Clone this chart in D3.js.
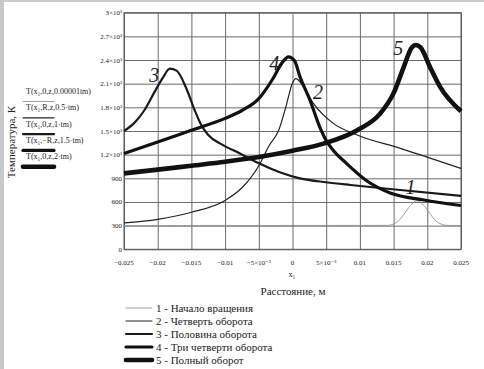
<!DOCTYPE html>
<head>
<meta charset="utf-8">
<script src="https://d3js.org/d3.v7.min.js"></script>
<style>
  body { margin: 0; background: #fff; }
  .grid line { stroke: #6a6a6a; stroke-width: 1; }
  .grid path { display: none; }
</style>
</head>
<body>
<div id="chart"></div>
<script>
// данные
var xTicks = [-0.025, -0.02, -0.015, -0.01, -0.005, 0, 0.005, 0.01, 0.015, 0.02, 0.025];
var xTickLabels = ["\u22120.025", "\u22120.02", "\u22120.015", "\u22120.01", "\u22125\u00d710\u207b\u00b3", "0", "5\u00d710\u207b\u00b3", "0.01", "0.015", "0.02", "0.025"];
var yTicks = [0, 300, 600, 900, 1200, 1500, 1800, 2100, 2400, 2700, 3000];
var yTickLabels = ["0", "300", "600", "900", "1.2\u00d710\u00b3", "1.5\u00d710\u00b3", "1.8\u00d710\u00b3", "2.1\u00d710\u00b3", "2.4\u00d710\u00b3", "2.7\u00d710\u00b3", "3\u00d710\u00b3"];

// 1 - начало вращения
var x1 = [-0.025, 0.014, 0.0155, 0.0165, 0.0175, 0.0185, 0.0195, 0.0205, 0.0215, 0.023, 0.025];
var t1 = [300, 303, 343, 440, 555, 615, 555, 440, 343, 303, 300];
// 2 - четверть оборота
var x2 = [-0.025, -0.02, -0.015, -0.01, -0.0075, -0.005, -0.0035, -0.002, -0.001, 0, 0.0005, 0.0015, 0.0031, 0.006, 0.0096, 0.016, 0.025];
var t2 = [335, 380, 470, 620, 780, 1060, 1310, 1520, 1800, 2110, 2165, 2080, 1850, 1600, 1450, 1280, 1025];
// 3 - половина оборота
var x3 = [-0.025, -0.0235, -0.022, -0.0205, -0.0192, -0.0182, -0.0172, -0.0157, -0.0145, -0.0135, -0.0125, -0.0105, -0.0078, -0.005, -0.002, 0.0011, 0.005, 0.0086, 0.016, 0.025];
var t3 = [1500, 1600, 1760, 1990, 2180, 2290, 2265, 2030, 1760, 1570, 1450, 1330, 1215, 1090, 980, 900, 850, 815, 752, 678];
// 4 - три четверти оборота
var x4 = [-0.025, -0.02, -0.015, -0.01, -0.0075, -0.005, -0.003, -0.0015, -0.0006, 0.0003, 0.0011, 0.0026, 0.004, 0.005, 0.006, 0.008, 0.011, 0.0145, 0.0195, 0.025];
var t4 = [1216, 1360, 1510, 1660, 1760, 1910, 2150, 2370, 2440, 2390, 2190, 1890, 1560, 1380, 1260, 1090, 870, 715, 625, 555];
// 5 - полный оборот
var x5 = [-0.025, -0.02, -0.015, -0.01, -0.005, 0, 0.0046, 0.0096, 0.013, 0.015, 0.0165, 0.0177, 0.0183, 0.019, 0.0204, 0.0219, 0.025];
var t5 = [963, 1010, 1060, 1110, 1170, 1250, 1340, 1510, 1720, 1980, 2310, 2560, 2590, 2560, 2310, 2060, 1750];

var seriesNames = ["1 - \u041d\u0430\u0447\u0430\u043b\u043e \u0432\u0440\u0430\u0449\u0435\u043d\u0438\u044f",
                   "2 - \u0427\u0435\u0442\u0432\u0435\u0440\u0442\u044c \u043e\u0431\u043e\u0440\u043e\u0442\u0430",
                   "3 - \u041f\u043e\u043b\u043e\u0432\u0438\u043d\u0430 \u043e\u0431\u043e\u0440\u043e\u0442\u0430",
                   "4 - \u0422\u0440\u0438 \u0447\u0435\u0442\u0432\u0435\u0440\u0442\u0438 \u043e\u0431\u043e\u0440\u043e\u0442\u0430",
                   "5 - \u041f\u043e\u043b\u043d\u044b\u0439 \u043e\u0431\u043e\u0440\u043e\u0442"];
var exprNames = ["T(x\u2081,0,z,0.00001tm)", "T(x\u2081,R,z,0.5\u00b7tm)", "T(x\u2081,0,z,1\u00b7tm)", "T(x\u2081,\u2212R,z,1.5\u00b7tm)", "T(x\u2081,0,z,2\u00b7tm)"];
var curveLabels = ["1", "2", "3", "4", "5"];
var labelPos = [[0.0175, 700], [0.0038, 1900], [-0.0205, 2120], [-0.0027, 2270], [0.0157, 2460]];

var W = 484, H = 369;
var FONT = "'Liberation Serif', 'Times New Roman', 'DejaVu Serif', serif";
var widths = [0.8, 1.2, 2.2, 3.2, 4.6];
var colors = ["#888", "#222", "#1a1a1a", "#111", "#111"];

var svg = d3.select("#chart").append("svg")
    .attr("width", W).attr("height", H)
    .attr("font-family", FONT)
    .attr("fill", "#222");

// рамка картинки
svg.append("rect").attr("x", 0).attr("y", 0).attr("width", W).attr("height", 2).attr("fill", "#ccc");
svg.append("rect").attr("x", 0).attr("y", 0).attr("width", 4).attr("height", H).attr("fill", "#c8c8c8");

var pL = 124, pR = 461, pT = 12.7, pB = 249.3;
var x = d3.scaleLinear().domain([-0.025, 0.025]).range([pL, pR]);
var y = d3.scaleLinear().domain([0, 3000]).range([pB, pT]);

// сетка --------------------------------------------------
svg.append("g").attr("class", "grid")
    .attr("transform", "translate(0," + pB + ")")
    .call(d3.axisBottom(x).tickValues(xTicks).tickSize(-(pB - pT)).tickFormat(""));
svg.append("g").attr("class", "grid")
    .attr("transform", "translate(" + pL + ",0)")
    .call(d3.axisLeft(y).tickValues(yTicks).tickSize(-(pR - pL)).tickFormat(""));
svg.append("rect").attr("x", pL).attr("y", pT).attr("width", pR - pL).attr("height", pB - pT)
    .attr("fill", "none").attr("stroke", "#555").attr("stroke-width", 1);

// подписи осей ---------------------------------------------
svg.selectAll("text.xt").data(xTicks).enter().append("text")
    .attr("class", "xt")
    .attr("x", function(d) { return x(d); })
    .attr("y", 265)
    .attr("text-anchor", "middle")
    .attr("font-size", 7)
    .text(function(d, i) { return xTickLabels[i]; });

svg.selectAll("text.yt").data(yTicks).enter().append("text")
    .attr("class", "yt")
    .attr("x", pL - 2)
    .attr("y", function(d) { return y(d) + 2.5; })
    .attr("text-anchor", "end")
    .attr("font-size", 7)
    .text(function(d, i) { return yTickLabels[i]; });

svg.append("text").attr("x", 292).attr("y", 277).attr("text-anchor", "middle")
    .attr("font-size", 8).text("x\u2081");
svg.append("text").attr("x", 293).attr("y", 295).attr("text-anchor", "middle")
    .attr("font-size", 11).text("\u0420\u0430\u0441\u0441\u0442\u043e\u044f\u043d\u0438\u0435, \u043c");
svg.append("text").attr("transform", "translate(15,142) rotate(-90)").attr("text-anchor", "middle")
    .attr("font-size", 11).text("\u0422\u0435\u043c\u043f\u0435\u0440\u0430\u0442\u0443\u0440\u0430, \u041a");

// кривые --------------------------------------------------
var xsAll = [x1, x2, x3, x4, x5];
var tsAll = [t1, t2, t3, t4, t5];
var line = d3.line()
    .x(function(d) { return x(d[0]); })
    .y(function(d) { return y(d[1]); })
    .curve(d3.curveMonotoneX);

xsAll.forEach(function(xs, k) {
    var pts = xs.map(function(v, i) { return [v, tsAll[k][i]]; });
    svg.append("path").datum(pts)
        .attr("d", line)
        .attr("fill", "none")
        .attr("stroke", colors[k])
        .attr("stroke-width", widths[k])
        .attr("stroke-linejoin", "round");
});

// номера кривых
svg.selectAll("text.num").data(curveLabels).enter().append("text")
    .attr("class", "num")
    .attr("x", function(d, i) { return x(labelPos[i][0]); })
    .attr("y", function(d, i) { return y(labelPos[i][1]); })
    .attr("text-anchor", "middle")
    .attr("font-size", 20)
    .attr("font-style", "italic")
    .text(function(d) { return d; });

// легенда слева (выражения)
var lg = svg.append("g");
exprNames.forEach(function(s, i) {
    var yy = 94 + i * 16.3;
    lg.append("text").attr("x", 26).attr("y", yy).attr("font-size", 8).text(s);
    lg.append("line").attr("x1", 23).attr("x2", 54)
        .attr("y1", yy + 7.5).attr("y2", yy + 7.5)
        .attr("stroke", colors[i]).attr("stroke-width", widths[i]).attr("stroke-linecap", "round");
});

// легенда снизу
var bl = svg.append("g");
seriesNames.forEach(function(s, i) {
    var yy = 308 + i * 13;
    bl.append("line").attr("x1", 126).attr("x2", 152).attr("y1", yy).attr("y2", yy)
        .attr("stroke", colors[i]).attr("stroke-width", widths[i]).attr("stroke-linecap", "round");
    bl.append("text").attr("x", 156).attr("y", yy + 3.5).attr("font-size", 11).text(s);
});
</script>
</body>
